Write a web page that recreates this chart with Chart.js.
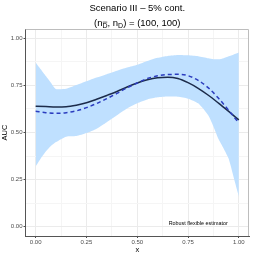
<!DOCTYPE html>
<html>
<head>
<meta charset="utf-8">
<script src="https://cdn.jsdelivr.net/npm/chart.js@4.4.1/dist/chart.umd.min.js"></script>
<style>
html, body { margin: 0; padding: 0; background: #fff; }
#wrap { width: 254px; height: 254px; }
</style>
</head>
<body>
<div id="wrap"><canvas id="aucChart" width="254" height="254"></canvas></div>
<script>
// curves
const lineX = [0, 0.05, 0.1, 0.15, 0.2, 0.25, 0.3, 0.35, 0.4, 0.45, 0.5, 0.55, 0.6, 0.65, 0.7, 0.75, 0.8, 0.85, 0.9, 0.95, 1];
const aucSolid = [0.640, 0.638, 0.636, 0.637, 0.645, 0.658, 0.677, 0.697, 0.718, 0.742, 0.763, 0.780, 0.791, 0.794, 0.787, 0.765, 0.735, 0.698, 0.656, 0.612, 0.567];
const aucDashed = [0.613, 0.605, 0.602, 0.605, 0.615, 0.632, 0.654, 0.680, 0.708, 0.738, 0.763, 0.787, 0.801, 0.808, 0.809, 0.802, 0.777, 0.737, 0.682, 0.618, 0.550];

// confidence band
const bandX = [0, 0.025, 0.05, 0.075, 0.1, 0.15, 0.2, 0.25, 0.3, 0.35, 0.4, 0.45, 0.5, 0.55, 0.6, 0.65, 0.7, 0.75, 0.8, 0.85, 0.875, 0.9, 0.925, 0.95, 0.975, 1];
const bandUpper = [0.872, 0.836, 0.800, 0.765, 0.731, 0.732, 0.752, 0.772, 0.792, 0.810, 0.828, 0.845, 0.860, 0.880, 0.897, 0.907, 0.912, 0.910, 0.905, 0.894, 0.889, 0.889, 0.895, 0.905, 0.915, 0.925];
const bandLower = [0.319, 0.362, 0.399, 0.428, 0.449, 0.478, 0.481, 0.497, 0.520, 0.555, 0.592, 0.628, 0.656, 0.676, 0.687, 0.691, 0.690, 0.680, 0.655, 0.590, 0.532, 0.465, 0.415, 0.360, 0.260, 0.160];

const majorTicks = [0, 0.25, 0.5, 0.75, 1];
const minorTicks = [0.125, 0.375, 0.625, 0.875];

const titleText = 'Scenario III – 5% cont.';
const noteText = 'Robust flexible estimator';

const FONT = "'Liberation Sans', Arial, sans-serif";

function pairs(xs, ys) {
    return xs.map(function (x, i) { return { x: x, y: ys[i] }; });
}

function isMajor(v) {
    return majorTicks.some(function (m) { return Math.abs(m - v) < 1e-6; });
}

function gridTicks(scale) {
    scale.ticks = majorTicks.concat(minorTicks).sort(function (a, b) { return a - b; })
        .map(function (v) { return { value: v }; });
}

const ggTheme = {
    id: 'ggTheme',
    afterDraw: function (chart) {
        const ctx = chart.ctx;
        const a = chart.chartArea;
        const cx = (a.left + a.right) / 2;
        ctx.save();

        // top/right panel border
        ctx.strokeStyle = '#bdbdbd';
        ctx.lineWidth = 1;
        ctx.beginPath();
        ctx.moveTo(a.left, a.top + 0.5);
        ctx.lineTo(a.right - 0.5, a.top + 0.5);
        ctx.lineTo(a.right - 0.5, a.bottom);
        ctx.stroke();

        // title
        ctx.fillStyle = '#000';
        ctx.textAlign = 'center';
        ctx.textBaseline = 'middle';
        ctx.font = '9.5px ' + FONT;
        ctx.fillText(titleText, cx, 8);

        // subtitle with subscripts
        const big = '9.5px ' + FONT;
        const small = '7px ' + FONT;
        const parts = [
            { t: '(n', f: big, sub: false },
            { t: 'D', f: small, sub: true, bar: true },
            { t: ', n', f: big, sub: false },
            { t: 'D', f: small, sub: true },
            { t: ') = (100, 100)', f: big, sub: false }
        ];
        let w = 0;
        parts.forEach(function (p) { ctx.font = p.f; p.w = ctx.measureText(p.t).width; w += p.w; });
        let x = cx - w / 2;
        ctx.textAlign = 'left';
        ctx.textBaseline = 'alphabetic';
        const base = 26;
        parts.forEach(function (p) {
            ctx.font = p.f;
            const y = p.sub ? base + 2 : base;
            ctx.fillText(p.t, x, y);
            if (p.bar) {
                ctx.beginPath();
                ctx.lineWidth = 0.6;
                ctx.strokeStyle = '#000';
                ctx.moveTo(x + 0.3, y - 5.9);
                ctx.lineTo(x + p.w - 0.3, y - 5.9);
                ctx.stroke();
            }
            x += p.w;
        });

        // annotation inside the panel
        const sx = chart.scales.x;
        const sy = chart.scales.y;
        ctx.font = '5.4px ' + FONT;
        ctx.textAlign = 'center';
        ctx.textBaseline = 'middle';
        ctx.fillStyle = '#000';
        ctx.fillText(noteText, sx.getPixelForValue(0.8), sy.getPixelForValue(0.018));
        ctx.restore();
    }
};

function axisOptions(titleText, isX) {
    return {
        type: 'linear',
        min: -0.05,
        max: 1.05,
        afterBuildTicks: gridTicks,
        afterFit: function (scale) {
            if (isX) scale.height = 18; else scale.width = 25.5;
        },
        grid: {
            color: function (c) { return c.tick && isMajor(c.tick.value) ? '#ebebeb' : '#f5f5f5'; },
            tickColor: function (c) { return c.tick && isMajor(c.tick.value) ? '#4d4d4d' : 'rgba(0,0,0,0)'; },
            tickLength: 2,
            lineWidth: 1
        },
        border: { color: '#555555', width: 1 },
        ticks: {
            autoSkip: false,
            maxRotation: 0,
            padding: 1,
            color: '#4d4d4d',
            font: { family: FONT, size: 6 },
            callback: function (v) { return isMajor(v) ? Number(v).toFixed(2) : ''; }
        },
        title: {
            display: true,
            text: titleText,
            color: '#000',
            font: { family: FONT, size: 7.5 },
            padding: { top: 0, bottom: 0 }
        }
    };
}

new Chart(document.getElementById('aucChart').getContext('2d'), {
    type: 'line',
    data: {
        datasets: [{
            label: 'solid',
            data: pairs(lineX, aucSolid),
            borderColor: '#1c2b4a',
            borderWidth: 1.5,
            pointRadius: 0,
            cubicInterpolationMode: 'monotone',
            fill: false,
            order: 1
        }, {
            label: 'dashed',
            data: pairs(lineX, aucDashed),
            borderColor: '#2b3cbf',
            borderWidth: 1.5,
            borderDash: [4, 3],
            pointRadius: 0,
            cubicInterpolationMode: 'monotone',
            fill: false,
            order: 0
        }, {
            label: 'upper',
            data: pairs(bandX, bandUpper),
            borderWidth: 0,
            borderColor: 'rgba(0,0,0,0)',
            backgroundColor: '#bfe0ff',
            pointRadius: 0,
            tension: 0.2,
            fill: '+1',
            order: 3
        }, {
            label: 'lower',
            data: pairs(bandX, bandLower),
            borderWidth: 0,
            borderColor: 'rgba(0,0,0,0)',
            pointRadius: 0,
            tension: 0.2,
            fill: false,
            order: 4
        }]
    },
    options: {
        responsive: false,
        animation: false,
        layout: { padding: { top: 29, right: 5, left: 0, bottom: 0 } },
        scales: {
            x: axisOptions('x', true),
            y: axisOptions('AUC', false)
        },
        plugins: {
            legend: { display: false },
            tooltip: { enabled: false },
            title: { display: false }
        }
    },
    plugins: [ggTheme]
});
</script>
</body>
</html>
